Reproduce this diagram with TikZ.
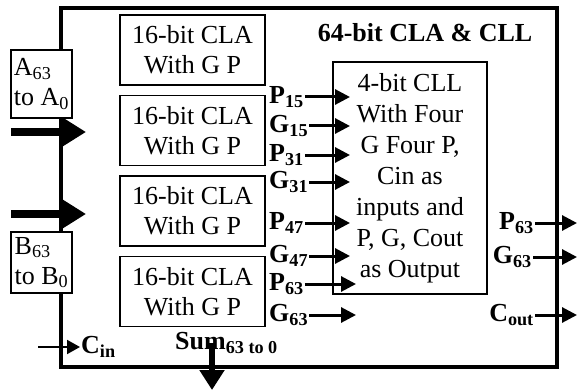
\documentclass[tikz,border=0pt]{standalone}
\usepackage{fontspec}
\setmainfont{Liberation Serif}
\usetikzlibrary{arrows.meta}
\usetikzlibrary{positioning}

\tikzset{
    cla/.style={draw,line width=1.5pt,minimum width=145pt,minimum height=70pt,align=center,inner sep=0pt},
    cll/.style={draw,line width=1.5pt,minimum width=154pt,minimum height=232pt,align=center,inner sep=0pt,font=\fontsize{26}{31}\selectfont},
    inbox/.style={draw,fill=white,line width=1.5pt,align=left,inner sep=1pt},
    sig/.style={font=\fontsize{26}{30}\selectfont\bfseries,inner sep=1pt},
    wire/.style={line width=3pt,-{Triangle[length=15pt,width=15pt]}},
    thinwire/.style={line width=2pt,-{Triangle[length=13pt,width=14pt]}},
    bus/.style={line width=8pt,-{Triangle[length=24pt,width=28pt]}},
    sumbus/.style={line width=6pt,-{Triangle[length=20pt,width=24pt]}}
}

\begin{document}
\begin{tikzpicture}[x=1pt,y=-1pt,node distance=9pt,font=\fontsize{26}{30}\selectfont]
        \useasboundingbox (0,0) rectangle (577,390);
        \draw [line width=4pt] (61,8) rectangle (557,367);
        \node [sig] (title) at (425,33) {64-bit CLA \& CLL};

        \node [cla] (cla0) at (192.5,50) {16-bit CLA\\With G P};
        \node [cla] (cla1) [below=of cla0] {16-bit CLA\\With G P};
        \node [cla] (cla2) [below=of cla1] {16-bit CLA\\With G P};
        \node [cla] (cla3) [below=of cla2] {16-bit CLA\\With G P};
        \node [cll] (cll) at (410,178) {4-bit CLL\\With Four\\G Four P,\\Cin as\\inputs and\\P, G, Cout\\as Output};

        \node [inbox,minimum width=61pt,minimum height=68pt] (abus) at (41.5,84) {A\textsubscript{63}\\to A\textsubscript{0}};
        \node [inbox,minimum width=61pt,minimum height=61pt] (bbus) at (41.5,262.5) {B\textsubscript{63}\\to B\textsubscript{0}};
        \coordinate (ain) at (11,132);
        \coordinate (aend) at (86,132);
        \coordinate (bin) at (11,214);
        \coordinate (bend) at (86,214);
        \draw [bus] (ain) -- (aend);
        \draw [bus] (bin) -- (bend);

        % group P and G into the CLL
        \coordinate (tipin) at (350,0);
        \coordinate (tiplow) at (356,0);
        \node [sig,anchor=west] (p15) at (268,97) {P\textsubscript{15}};
        \node [sig,anchor=west] (g15) at (268,126) {G\textsubscript{15}};
        \node [sig,anchor=west] (p31) at (268,155) {P\textsubscript{31}};
        \node [sig,anchor=west] (g31) at (268,182) {G\textsubscript{31}};
        \node [sig,anchor=west] (p47) at (268,223) {P\textsubscript{47}};
        \node [sig,anchor=west] (g47) at (268,256) {G\textsubscript{47}};
        \node [sig,anchor=west] (p63) at (268,284) {P\textsubscript{63}};
        \node [sig,anchor=west] (g63) at (268,315) {G\textsubscript{63}};
        \draw [wire] (p15.east) -- (p15.east -| tipin);
        \draw [wire] (g15.east) -- (g15.east -| tipin);
        \draw [wire] (p31.east) -- (p31.east -| tipin);
        \draw [wire] (g31.east) -- (g31.east -| tipin);
        \draw [wire] (p47.east) -- (p47.east -| tipin);
        \draw [wire] (g47.east) -- (g47.east -| tipin);
        \draw [wire] (p63.east) -- (p63.east -| tiplow);
        \draw [wire] (g63.east) -- (g63.east -| tiplow);

        % outputs
        \coordinate (tipout) at (577,0);
        \node [sig,anchor=east] (pout) at (535,223) {P\textsubscript{63}};
        \node [sig,anchor=east] (gout) at (533,257) {G\textsubscript{63}};
        \node [sig,anchor=east] (cout) at (535,315) {C\textsubscript{out}};
        \draw [wire] (pout.east) -- (pout.east -| tipout);
        \draw [wire] (gout.east) -- (gout.east -| tipout);
        \draw [wire] (cout.east) -- (cout.east -| tipout);

        \coordinate (cinsrc) at (38,347);
        \node [sig,anchor=west] (cin) at (80,347) {C\textsubscript{in}};
        \draw [thinwire] (cinsrc) -- (cin.west);

        \node [sig,anchor=west] (sum) at (174,343) {Sum\textsubscript{63 to 0}};
        \coordinate (sumtip) at (212,390);
        \draw [sumbus] (sumtip |- sum.center) -- (sumtip);
\end{tikzpicture}
\end{document}
